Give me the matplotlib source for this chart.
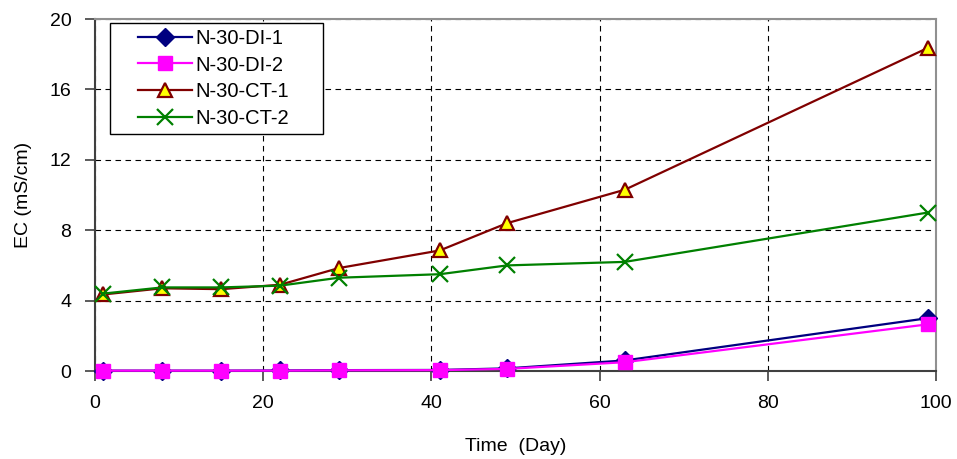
import numpy as np
import matplotlib.pyplot as plt
from matplotlib.patches import Rectangle

plt.rcParams['font.family'] = ['Liberation Sans', 'DejaVu Sans']

days = [1, 8, 15, 22, 29, 41, 49, 63, 99]
di1 = [0.02, 0.02, 0.02, 0.03, 0.05, 0.06, 0.15, 0.6, 3.0]
di2 = [0.02, 0.02, 0.02, 0.02, 0.04, 0.05, 0.12, 0.5, 2.65]
ct1 = [4.35, 4.7, 4.65, 4.9, 5.85, 6.85, 8.4, 10.3, 18.35]
ct2 = [4.4, 4.75, 4.75, 4.85, 5.3, 5.5, 6.0, 6.2, 9.0]

fig = plt.figure(figsize=(9.57, 4.59), dpi=100)
ax = fig.add_axes([0.0993, 0.1917, 0.8787, 0.7669])

ax.plot(days, di1, color='#000080', lw=1.6, marker='D', ms=9, mfc='#000080', mec='#000080',
        label='N-30-DI-1', zorder=3, clip_on=False)
ax.plot(days, di2, color='#FF00FF', lw=1.6, marker='s', ms=10, mfc='#FF00FF', mec='#FF00FF',
        label='N-30-DI-2', zorder=4, clip_on=False)
ax.plot(days, ct1, color='#800000', lw=1.6, marker='^', ms=10, mfc='#FFFF00', mec='#800000', mew=1.6,
        label='N-30-CT-1', zorder=3, clip_on=False)
ax.plot(days, ct2, color='#008000', lw=1.6, marker='x', ms=11, mew=1.6,
        label='N-30-CT-2', zorder=3, clip_on=False)

ax.set_xlim(0, 100)
ax.set_ylim(0, 20)
ax.set_xticks(np.arange(0, 101, 20))
ax.set_yticks(np.arange(0, 21, 4))
ax.grid(True, color='black', linestyle=(0, (5, 4)), linewidth=0.8)
ax.tick_params(direction='out', length=7, labelsize=14, width=1.2, colors='#404040', labelcolor='black', pad=10)

for s in ['top', 'right']:
    ax.spines[s].set_color('#909090')
    ax.spines[s].set_linewidth(1.5)
for s in ['left', 'bottom']:
    ax.spines[s].set_color('#404040')
    ax.spines[s].set_linewidth(1.5)

ax.set_xlabel('Time  (Day)', fontsize=14, labelpad=19)
ax.set_ylabel('EC (mS/cm)', fontsize=14, labelpad=13)

# legend drawn at figure level so a custom frame (uneven padding) can sit under it
handles, labels = ax.get_legend_handles_labels()
leg = fig.legend(handles, labels, loc='upper left', bbox_to_anchor=(0.0993 + 0.051 * 0.8787, 0.1917 + 0.972 * 0.7669),
                 fontsize=14.5, frameon=False, handlelength=2.7, handletextpad=0.15, borderpad=0,
                 labelspacing=0.38, borderaxespad=0)
leg.set_zorder(10)

fig.canvas.draw()
bb = leg.get_window_extent()
fig.add_artist(Rectangle((bb.x0 - 28, bb.y0 - 6), bb.width + 28 + 34, bb.height + 12,
                         transform=None, facecolor='white', edgecolor='black',
                         linewidth=1.0, zorder=5))

fig.savefig('out.png', dpi=100)
